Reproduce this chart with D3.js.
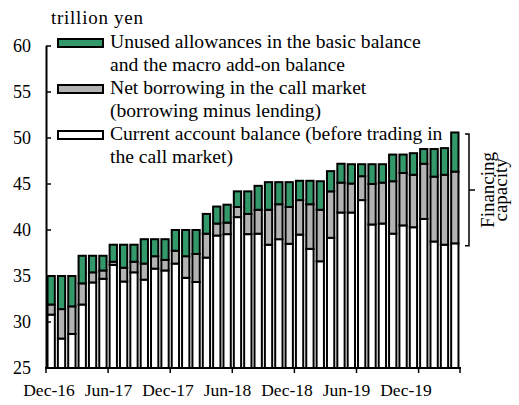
<!DOCTYPE html>
<html>
<head>
    <meta charset="utf-8">
    <title>financing capacity</title>
    <script type="text/javascript" src="https://d3js.org/d3.v7.min.js"></script>
    <style>
      body { margin: 0; background: #fff; }
      svg text { font-family: "Liberation Serif", "Times New Roman", Times, serif; }
    </style>
</head>
<body>
<script type="text/javascript">

    var months = ["Dec-16","Jan-17","Feb-17","Mar-17","Apr-17","May-17","Jun-17","Jul-17","Aug-17","Sep-17",
                  "Oct-17","Nov-17","Dec-17","Jan-18","Feb-18","Mar-18","Apr-18","May-18","Jun-18","Jul-18",
                  "Aug-18","Sep-18","Oct-18","Nov-18","Dec-18","Jan-19","Feb-19","Mar-19","Apr-19","May-19",
                  "Jun-19","Jul-19","Aug-19","Sep-19","Oct-19","Nov-19","Dec-19","Jan-20","Feb-20","Mar-20"]

    // current account balance (before trading in the call market)
    var current = [30.8,28.2,28.7,31.9,34.3,34.7,36.2,34.4,35.4,34.6,
                   35.8,35.6,36.35,34.8,34.35,37.0,39.4,39.55,41.4,39.55,
                   39.6,38.4,39.0,38.5,39.5,37.95,36.6,39.15,41.9,41.9,
                   43.25,40.6,40.7,39.6,40.5,40.3,41.2,38.75,38.4,38.55]
    // net borrowing in the call market
    var netBorrowing = [1.1,3.2,3.0,2.3,1.1,0.9,0.35,1.5,1.15,1.75,
                        1.35,1.15,1.4,2.35,3.05,2.6,1.3,1.25,1.1,2.2,
                        2.6,3.8,3.8,4.0,3.75,4.85,5.6,5.05,3.25,3.15,
                        2.6,4.4,4.45,5.7,5.7,5.7,6.0,7.05,7.6,7.8]
    // unused allowances
    var unused = [3.1,3.6,3.3,3.0,1.8,1.6,1.85,2.5,1.85,2.65,
                  1.85,2.25,2.25,2.85,2.6,2.15,1.85,1.95,1.7,2.45,
                  2.6,3.0,2.4,2.7,2.1,2.55,3.1,2.2,2.05,2.1,
                  1.3,2.15,2.0,2.9,2.0,2.35,1.6,3.0,2.9,4.25]

    var yTicks = [25,30,35,40,45,50,55,60]
    var xLabels = ["Dec-16","Jun-17","Dec-17","Jun-18","Dec-18","Jun-19","Dec-19"]

    var seriesNames = ["unused","netBorrowing","current"]
    var legendLines = [
        ["Unused allowances in the basic balance","and the macro add-on balance"],
        ["Net borrowing in the call market","(borrowing minus lending)"],
        ["Current account balance (before trading in","the call market)"]
    ]
    var colors = {current: "#ffffff", netBorrowing: "#b3b3b3", unused: "#33996a"}

    var w = 519
    var h = 405
    var svg = d3.select("body").append("svg").attr("width", w).attr("height", h)

    var table = months.map(function(m, i){
        return {month: m, current: current[i], netBorrowing: netBorrowing[i], unused: unused[i]}
    })
    var stack = d3.stack().keys(["current","netBorrowing","unused"])
    var layers = stack(table)

    var xScale = d3.scaleBand().domain(months).range([46, 460]).paddingInner(0.1).paddingOuter(0.05)
    var yScale = d3.scaleLinear().domain([25, 60]).range([368, 46])
    var labelScale = d3.scalePoint().domain(xLabels).range([49, 406])

    // bars (axis starts at 25, so clip the base there)
    svg.selectAll(".layer")
        .data(layers)
        .enter()
        .append("g")
        .attr("fill", function(d){ return colors[d.key] })
        .selectAll("rect")
        .data(function(d){ return d })
        .enter()
        .append("rect")
            .attr("x", function(d){ return xScale(d.data.month) + 1 })
            .attr("width", xScale.bandwidth() - 2)
            .attr("y", function(d){ return yScale(d[1]) })
            .attr("height", function(d){ return yScale(Math.max(d[0], 25)) - yScale(d[1]) })
            .attr("stroke", "#000")
            .attr("stroke-width", 2)

    // y axis
    svg.append("line")
        .attr("x1", 46.5).attr("x2", 46.5)
        .attr("y1", yScale(60)).attr("y2", yScale(25))
        .attr("stroke", "#000").attr("stroke-width", 2)
    svg.selectAll(".ytick")
        .data(yTicks)
        .enter()
        .append("line")
            .attr("x1", 46).attr("x2", 51)
            .attr("y1", function(d){ return yScale(d) })
            .attr("y2", function(d){ return yScale(d) })
            .attr("stroke", "#000").attr("stroke-width", 1.5)
    svg.selectAll(".ylab")
        .data(yTicks)
        .enter()
        .append("text")
            .text(function(d){ return d })
            .attr("x", 31)
            .attr("y", function(d){ return yScale(d) + 6 })
            .attr("text-anchor", "end")
            .style("font-size", "18px")

    // x axis
    svg.append("line")
        .attr("x1", 45).attr("x2", 461)
        .attr("y1", yScale(25)).attr("y2", yScale(25))
        .attr("stroke", "#000").attr("stroke-width", 2)
    svg.selectAll(".xtick")
        .data(months.filter(function(d, i){ return i % 6 == 0 }).concat(["end"]))
        .enter()
        .append("line")
            .attr("x1", function(d){ return d == "end" ? 460 : xScale(d) - xScale.step() * 0.05 })
            .attr("x2", function(d){ return d == "end" ? 460 : xScale(d) - xScale.step() * 0.05 })
            .attr("y1", yScale(25)).attr("y2", yScale(25) + 5)
            .attr("stroke", "#000").attr("stroke-width", 1.5)
    svg.selectAll(".xlab")
        .data(xLabels)
        .enter()
        .append("text")
            .text(function(d){ return d })
            .attr("x", function(d){ return labelScale(d) })
            .attr("y", 396)
            .attr("text-anchor", "middle")
            .style("font-size", "17.5px")

    // unit
    svg.append("text").text("trillion yen")
        .attr("x", 51).attr("y", 24)
        .attr("textLength", 92).attr("lengthAdjust", "spacing")
        .style("font-size", "19px")

    // legend
    var legend = svg.selectAll(".legend")
        .data(seriesNames)
        .enter()
        .append("g")
        .attr("transform", function(d, i){ return "translate(0," + (48 + i * 46) + ")" })
    legend.append("rect")
        .attr("x", 58).attr("y", -9).attr("width", 45).attr("height", 8)
        .attr("fill", function(d){ return colors[d] })
        .attr("stroke", "#000").attr("stroke-width", 2)
    legend.each(function(d, i){
        var g = d3.select(this)
        legendLines[i].forEach(function(line, j){
            g.append("text").text(line)
                .attr("x", 110).attr("y", j * 23)
                .style("font-size", "19.6px")
        })
    })

    // financing capacity bracket
    var last = table[table.length - 1]
    var bTop = yScale(last.current + last.netBorrowing + last.unused) + 1.5
    var bBot = yScale(last.current) + 2.5
    var bx = 469
    svg.append("path")
        .attr("d", "M" + (bx - 4) + "," + bTop + "H" + bx + "V" + bBot + "H" + (bx - 4)
                 + "M" + bx + "," + ((bTop + bBot) / 2) + "H" + (bx + 6))
        .attr("fill", "none").attr("stroke", "#000").attr("stroke-width", 1.5)
    var cap = svg.append("g")
        .attr("transform", "translate(494," + ((bTop + bBot) / 2) + ") rotate(-90)")
    cap.append("text").text("Financing")
        .attr("text-anchor", "middle").style("font-size", "19px")
    cap.append("text").text("capacity")
        .attr("y", 13).attr("text-anchor", "middle").style("font-size", "19px")

</script>
</body>
</html>
